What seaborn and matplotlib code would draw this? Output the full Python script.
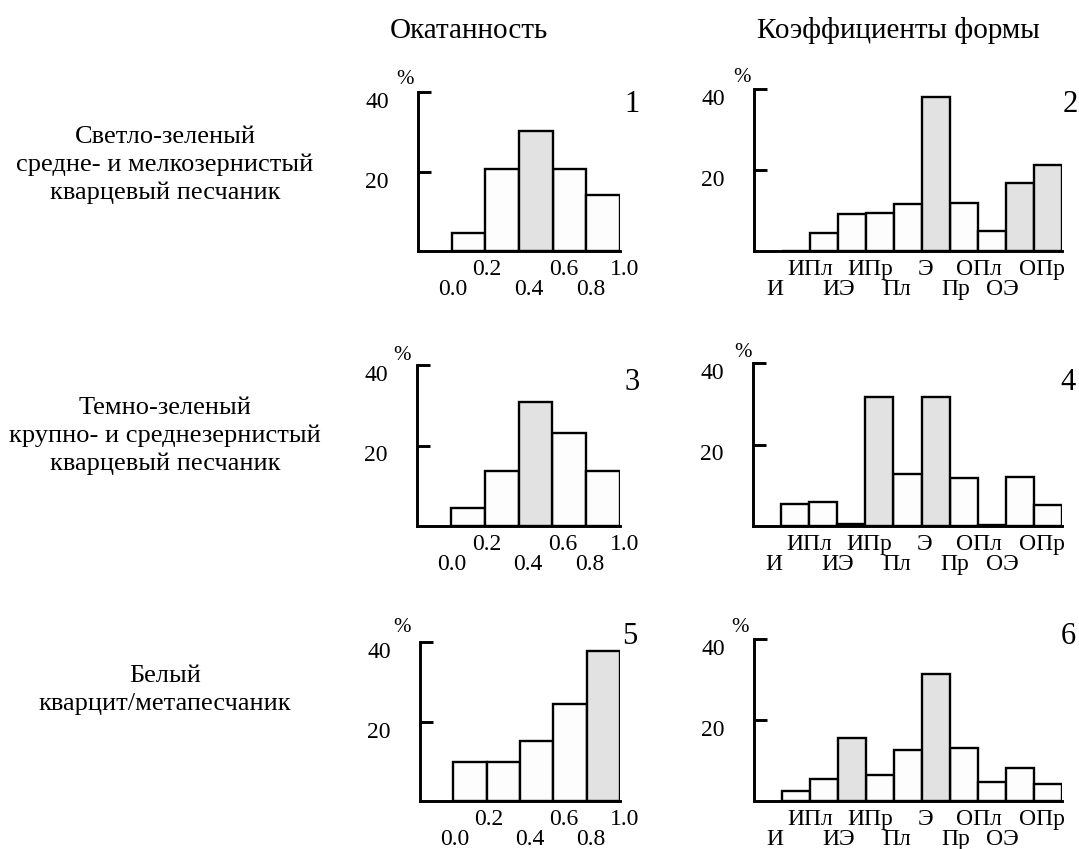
import numpy as np
import matplotlib
matplotlib.use('Agg')
import matplotlib.pyplot as plt
import seaborn as sns
import pandas as pd

sns.set_theme(style='white')
plt.rcParams['font.family'] = ['Liberation Serif', 'DejaVu Serif']
plt.rcParams.update({'text.color': 'black', 'axes.labelcolor': 'black',
                     'xtick.color': 'black', 'ytick.color': 'black'})

# ---- data ----
col_titles = ['Окатанность', 'Коэффициенты формы']
row_labels = ['Светло-зеленый\nсредне- и мелкозернистый\nкварцевый песчаник',
              'Темно-зеленый\nкрупно- и среднезернистый\nкварцевый песчаник',
              'Белый\nкварцит/метапесчаник']

round_bins = ['0.0-0.2', '0.2-0.4', '0.4-0.6', '0.6-0.8', '0.8-1.0']
round_ticks = ['0.0', '0.2', '0.4', '0.6', '0.8', '1.0']
round_1 = [4.6, 20.7, 30.3, 20.7, 14.1]
round_3 = [4.5, 13.6, 30.7, 23.1, 13.6]
round_5 = [9.9, 9.7, 15.2, 24.5, 37.8]
round_hl_1 = [0, 0, 1, 0, 0]
round_hl_3 = [0, 0, 1, 0, 0]
round_hl_5 = [0, 0, 0, 0, 1]

shape_cats = ['И', 'ИПл', 'ИЭ', 'ИПр', 'Пл', 'Э', 'Пр', 'ОПл', 'ОЭ', 'ОПр']
shape_2 = [0.0, 4.5, 9.1, 9.3, 11.7, 38.0, 11.9, 4.9, 16.9, 21.3]
shape_4 = [5.5, 5.9, 0.4, 31.7, 12.8, 31.6, 11.8, 0.3, 12.0, 5.1]
shape_6 = [2.5, 5.4, 15.6, 6.4, 12.7, 31.3, 13.1, 4.8, 8.1, 4.1]
shape_hl_2 = [0, 0, 0, 0, 0, 1, 0, 0, 1, 1]
shape_hl_4 = [0, 0, 0, 1, 0, 1, 0, 0, 0, 0]
shape_hl_6 = [0, 0, 1, 0, 0, 1, 0, 0, 0, 0]

# ---- layout (pixels) ----
W, H = 1079, 849
fig = plt.figure(figsize=(W / 100, H / 100), dpi=100)

def px_axes(l, t, r, b):
    return fig.add_axes([l / W, 1 - b / H, (r - l) / W, (b - t) / H])

# x label positions (in bar index units), staggered lower/upper
round_lab_x = [-0.46, 0.55, 1.78, 2.82, 3.62, 4.65]
shape_lab_x = [-0.76, 0.5, 1.51, 2.65, 3.6, 4.62, 5.69, 6.53, 7.36, 8.8]

gray = '#e2e2e2'
white = '#fdfdfd'

panels = [
    # (box px, cats, vals, highlight, xlim, label x, tick texts, number, number pos, % pos)
    ((418, 92, 620, 251), round_bins, round_1, round_hl_1, (-1.5, 4.5), round_lab_x, round_ticks, '1', (632, 105), (405, 80)),
    ((754, 89, 1062, 251), shape_cats, shape_2, shape_hl_2, (-1.5, 9.5), shape_lab_x, shape_cats, '2', (1070, 105), (742, 78)),
    ((417, 365, 620, 526), round_bins, round_3, round_hl_3, (-1.5, 4.5), round_lab_x, round_ticks, '3', (632, 382), (402, 355)),
    ((753, 363, 1062, 526), shape_cats, shape_4, shape_hl_4, (-1.5, 9.5), shape_lab_x, shape_cats, '4', (1068, 382), (743, 352)),
    ((420, 642, 620, 801), round_bins, round_5, round_hl_5, (-1.5, 4.5), round_lab_x, round_ticks, '5', (630, 636), (402, 628)),
    ((754, 639, 1062, 801), shape_cats, shape_6, shape_hl_6, (-1.5, 9.5), shape_lab_x, shape_cats, '6', (1068, 637), (740, 628)),
]

for box, cats, vals, hl, xlim, labx, labs, num, numpos, pctpos in panels:
    ax = px_axes(*box)
    df = pd.DataFrame({'cat': cats, 'val': vals, 'hl': hl})
    sns.barplot(data=df, x='cat', y='val', hue='hl', order=cats,
                palette={0: white, 1: gray}, dodge=False, width=1.0,
                edgecolor='black', linewidth=1.7, legend=False, ax=ax)
    ax.set_xlim(*xlim)
    ax.set_ylim(0, 40)
    ax.set_facecolor('none')
    for s in ['top', 'right']:
        ax.spines[s].set_visible(False)
    for s in ['left', 'bottom']:
        ax.spines[s].set_linewidth(2.1)
        ax.spines[s].set_color('black')
    ax.set_xlabel('')
    ax.set_ylabel('')
    ax.set_xticks([])
    ax.set_yticks([20, 40])
    ax.set_yticklabels(['20', '40'])
    ax.tick_params(axis='y', direction='in', length=9, width=2.1, color='black',
                   labelcolor='black', pad=21, labelsize=17, left=True)
    plt.setp(ax.get_yticklabels(), va='top')
    for i, (x, t) in enumerate(zip(labx, labs)):
        dy = -27.5 if i % 2 == 0 else -13.5
        ax.annotate(t, xy=(x, 0), xycoords=('data', 'axes fraction'),
                    xytext=(0, dy), textcoords='offset points', color='black',
                    ha='center', va='center', fontsize=17, annotation_clip=False)
    fig.text(numpos[0] / W, 1 - numpos[1] / H, num, fontsize=22, ha='center', va='center')
    fig.text(pctpos[0] / W, 1 - pctpos[1] / H, '%', fontsize=15, ha='center', va='center')

fig.text(469 / W, 1 - 31 / H, col_titles[0], fontsize=21, ha='center', va='center')
fig.text(898 / W, 1 - 31 / H, col_titles[1], fontsize=21, ha='center', va='center')

for lab, yc in zip(row_labels, [165, 436, 690]):
    fig.text(165 / W, 1 - yc / H, lab, fontsize=19, ha='center', va='center', linespacing=1.33)

fig.savefig('out.png', dpi=100)
